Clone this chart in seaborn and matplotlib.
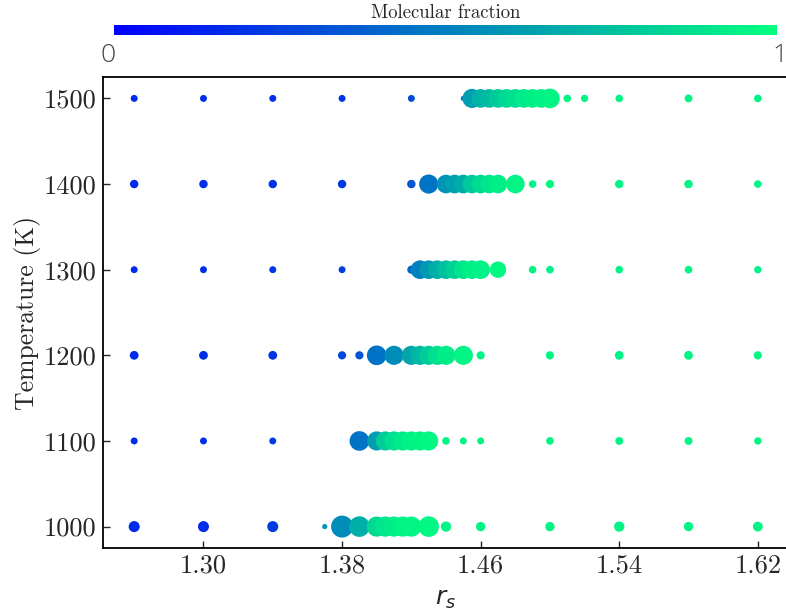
import numpy as np
import pandas as pd
import matplotlib
matplotlib.use("Agg")
import matplotlib.pyplot as plt
import seaborn as sns
from matplotlib.colors import Normalize
from matplotlib.cm import ScalarMappable

# ---------------- data ----------------
rs_1000 = [1.26, 1.30, 1.34, 1.37, 1.38, 1.39, 1.40, 1.405, 1.41, 1.415, 1.42, 1.43, 1.44, 1.46, 1.50, 1.54, 1.58, 1.62]
frac_1000 = [0.17, 0.18, 0.24, 0.58, 0.55, 0.68, 0.85, 0.90, 0.93, 0.95, 0.96, 0.97, 0.96, 0.96, 0.96, 0.96, 0.96, 0.96]
size_1000 = [63, 63, 63, 14, 250, 220, 210, 210, 210, 210, 210, 220, 55, 45, 45, 55, 45, 50]

rs_1100 = [1.26, 1.30, 1.34, 1.39, 1.40, 1.405, 1.41, 1.415, 1.42, 1.425, 1.43, 1.44, 1.45, 1.46, 1.50, 1.54, 1.58, 1.62]
frac_1100 = [0.17, 0.18, 0.22, 0.45, 0.62, 0.80, 0.88, 0.92, 0.95, 0.96, 0.97, 0.96, 0.96, 0.96, 0.96, 0.96, 0.96, 0.96]
size_1100 = [25, 25, 25, 200, 190, 190, 190, 190, 190, 190, 190, 30, 25, 25, 30, 32, 32, 28]

rs_1200 = [1.26, 1.30, 1.34, 1.38, 1.39, 1.40, 1.41, 1.42, 1.425, 1.43, 1.435, 1.44, 1.45, 1.46, 1.50, 1.54, 1.58, 1.62]
frac_1200 = [0.17, 0.18, 0.20, 0.28, 0.33, 0.45, 0.55, 0.65, 0.72, 0.80, 0.88, 0.93, 0.96, 0.96, 0.96, 0.96, 0.96, 0.96]
size_1200 = [40, 40, 40, 35, 35, 200, 190, 190, 190, 190, 190, 190, 190, 35, 35, 40, 40, 35]

rs_1300 = [1.26, 1.30, 1.34, 1.38, 1.42, 1.425, 1.43, 1.435, 1.44, 1.445, 1.45, 1.455, 1.46, 1.47, 1.49, 1.50, 1.54, 1.58, 1.62]
frac_1300 = [0.17, 0.18, 0.20, 0.25, 0.40, 0.50, 0.60, 0.68, 0.75, 0.82, 0.90, 0.94, 0.95, 0.97, 0.96, 0.96, 0.96, 0.96, 0.96]
size_1300 = [25, 25, 25, 25, 35, 180, 180, 180, 180, 180, 180, 180, 180, 140, 30, 30, 30, 30, 28]

rs_1400 = [1.26, 1.30, 1.34, 1.38, 1.42, 1.43, 1.44, 1.445, 1.45, 1.455, 1.46, 1.465, 1.47, 1.48, 1.49, 1.50, 1.54, 1.58, 1.62]
frac_1400 = [0.17, 0.18, 0.20, 0.22, 0.33, 0.45, 0.58, 0.63, 0.68, 0.78, 0.85, 0.90, 0.93, 0.96, 0.96, 0.96, 0.96, 0.96, 0.96]
size_1400 = [37, 37, 37, 37, 37, 190, 180, 180, 180, 180, 180, 180, 180, 180, 30, 35, 37, 37, 30]

rs_1500 = [1.26, 1.30, 1.34, 1.38, 1.42, 1.45, 1.455, 1.46, 1.465, 1.47, 1.475, 1.48, 1.485, 1.49, 1.495, 1.50, 1.51, 1.52, 1.54, 1.58, 1.62]
frac_1500 = [0.17, 0.18, 0.19, 0.20, 0.30, 0.45, 0.62, 0.70, 0.74, 0.80, 0.85, 0.88, 0.92, 0.94, 0.95, 0.96, 0.96, 0.96, 0.96, 0.96, 0.96]
size_1500 = [25, 25, 25, 25, 25, 14, 190, 180, 180, 180, 180, 180, 180, 180, 180, 200, 30, 28, 30, 32, 30]

temperatures = [1000, 1100, 1200, 1300, 1400, 1500]
x_ticks = [1.30, 1.38, 1.46, 1.54, 1.62]
x_tick_labels = ["1.30", "1.38", "1.46", "1.54", "1.62"]
y_ticks = [1000, 1100, 1200, 1300, 1400, 1500]
y_tick_labels = ["1000", "1100", "1200", "1300", "1400", "1500"]
cbar_label = "Molecular fraction"

rows = {
    1000: (rs_1000, frac_1000, size_1000),
    1100: (rs_1100, frac_1100, size_1100),
    1200: (rs_1200, frac_1200, size_1200),
    1300: (rs_1300, frac_1300, size_1300),
    1400: (rs_1400, frac_1400, size_1400),
    1500: (rs_1500, frac_1500, size_1500),
}
frames = []
for T in temperatures:
    r, f, s = rows[T]
    frames.append(pd.DataFrame({"rs": r, "T": T, "frac": f, "size": s}))
df = pd.concat(frames, ignore_index=True)

# ---------------- plot ----------------
sns.set_style("white")
plt.rcParams["font.family"] = ["DejaVu Sans"]

fig = plt.figure(figsize=(7.86, 6.13), dpi=100)
ax = fig.add_axes([103 / 786, 1 - 548 / 613, (789 - 103) / 786, (548 - 77) / 613])

smin, smax = df["size"].min(), df["size"].max()
sns.scatterplot(data=df, x="rs", y="T", hue="frac", size="size",
                palette="winter", hue_norm=(0, 1),
                sizes=(smin, smax), size_norm=(smin, smax),
                linewidth=0, legend=False, ax=ax)

ax.set_xlim(1.242, 1.638)
ax.set_ylim(975, 1525)
ax.set_xticks(x_ticks)
ax.set_xticklabels(x_tick_labels)
ax.set_yticks(y_ticks)
ax.set_yticklabels(y_tick_labels)
ax.tick_params(direction="in", length=5, width=1, labelsize=19,
               bottom=True, left=True, top=False, right=False)
ax.tick_params(axis="x", pad=4)
ax.tick_params(axis="y", pad=5)
for lab in ax.get_xticklabels() + ax.get_yticklabels():
    lab.set_fontfamily("cmr10")
for sp in ax.spines.values():
    sp.set_color("black")
    sp.set_linewidth(1.3)

ax.set_xlabel(r"$r_s$", fontsize=18, labelpad=7)
ax.set_ylabel("Temperature (K)", fontsize=18.5, fontfamily="cmr10", labelpad=2)

# colorbar
cax = fig.add_axes([114 / 786, 1 - 35 / 613, 663 / 786, 10 / 613])
sm = ScalarMappable(norm=Normalize(0, 1), cmap="winter")
cb = fig.colorbar(sm, cax=cax, orientation="horizontal")
cb.outline.set_visible(False)
cb.set_ticks([])
cax.text(0.5, 1.3, cbar_label, transform=cax.transAxes, ha="center", va="bottom",
         fontsize=13.5, fontfamily="cmr10")
cax.text(-0.009, -0.8, "0", transform=cax.transAxes, ha="center", va="top",
         fontsize=19, fontfamily="Open Sans", fontweight="light", color="#444444")
cax.text(1.004, -0.8, "1", transform=cax.transAxes, ha="center", va="top",
         fontsize=19, fontfamily="Open Sans", fontweight="light", color="#444444")

fig.savefig("out.png", dpi=100)
